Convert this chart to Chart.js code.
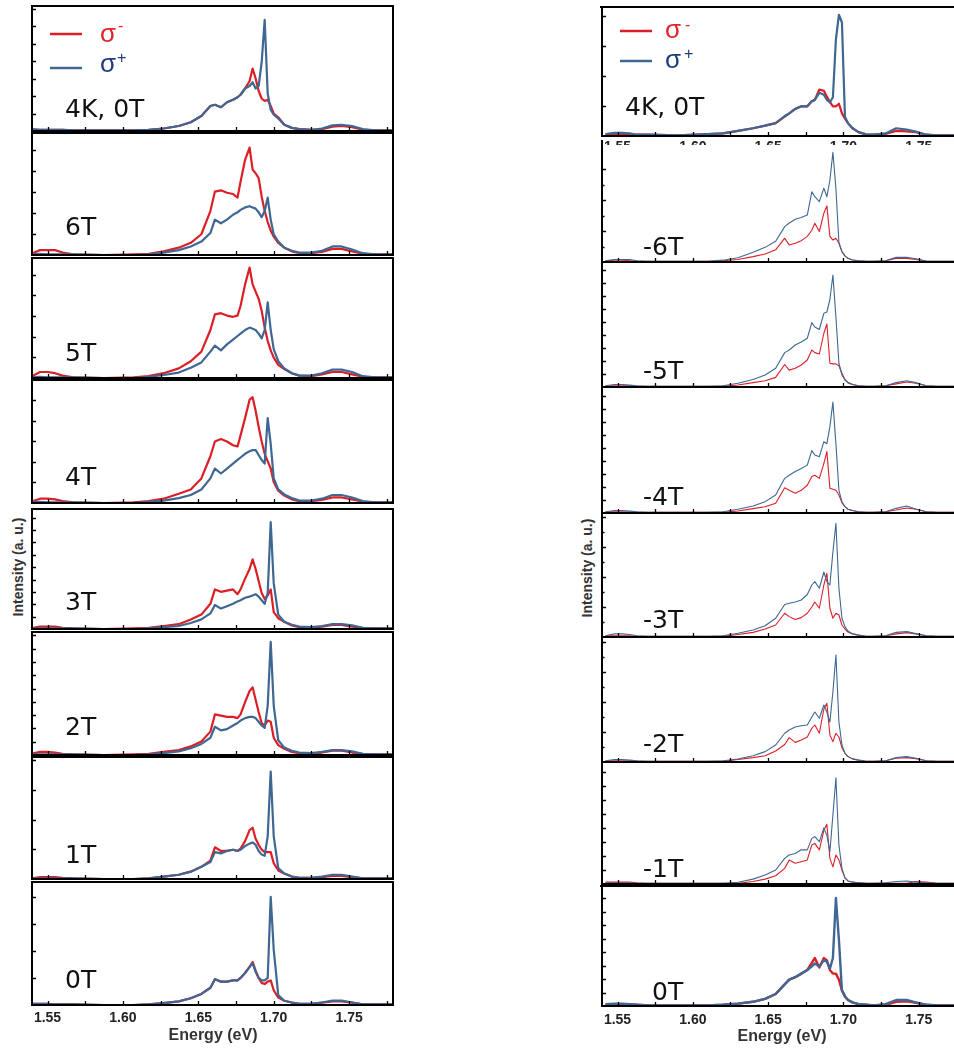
<!DOCTYPE html>
<html>
<head>
<meta charset="utf-8">
<title>Polarised PL spectra vs field</title>
<script src="https://cdn.jsdelivr.net/npm/chart.js@4.4.1/dist/chart.umd.min.js"></script>
<style>
  html, body { margin: 0; padding: 0; background: #fff; }
  body { position: relative; width: 954px; height: 1055px; overflow: hidden; }
  canvas { position: absolute; }
  .ytitle {
    position: absolute;
    font: bold 14px "Liberation Sans", Arial, sans-serif;
    color: #333;
    white-space: nowrap;
    transform: translate(-50%, -50%) rotate(-90deg);
  }
</style>
</head>
<body>
<div class="ytitle" style="left:18px; top:567px">Intensity (a. u.)</div>
<div class="ytitle" style="left:587px; top:568px">Intensity (a. u.)</div>

<script>
// Energy grid (eV) for each column
const energyLeft = [1.539, 1.545, 1.550, 1.555, 1.560, 1.567, 1.587, 1.607, 1.617, 1.627, 1.637, 1.645, 1.652, 1.658,
  1.661, 1.665, 1.669, 1.673, 1.676, 1.678, 1.681, 1.684, 1.686, 1.688, 1.690, 1.692, 1.694, 1.696, 1.698, 1.700,
  1.703, 1.707, 1.712, 1.717, 1.725, 1.732, 1.739, 1.745, 1.752, 1.759, 1.767, 1.779];
const energyRight = [1.542, 1.548, 1.553, 1.558, 1.563, 1.570, 1.590, 1.610, 1.620, 1.630, 1.640, 1.648, 1.655, 1.661,
  1.664, 1.668, 1.672, 1.676, 1.679, 1.681, 1.684, 1.687, 1.689, 1.691, 1.693, 1.695, 1.697, 1.699, 1.701, 1.703,
  1.706, 1.710, 1.715, 1.720, 1.728, 1.735, 1.742, 1.748, 1.755, 1.762, 1.770, 1.778];

const tickValues = [1.55, 1.60, 1.65, 1.70, 1.75];
const tickLabels = ["1.55", "1.60", "1.65", "1.70", "1.75"];
const tickMarks = [1.55, 1.575, 1.6, 1.625, 1.65, 1.675, 1.7, 1.725, 1.75, 1.775];

// Intensities, in % of each panel height. red = sigma-, blue = sigma+
// left column, positive field
const redL4K  = [1, 1, 1, 1, 1, 0.5, 0.5, 0.5, 1, 2, 4, 7, 12, 20, 21, 19, 23, 25, 27, 29, 34, 40, 50, 42, 32, 26, 24, 25, 20, 14, 11, 5, 2.5, 1.5, 1, 1.5, 3.5, 4, 3, 1, 0.5, 0.5];
const blueL4K = [1.5, 1, 1, 1, 1, 0.5, 0.5, 0.5, 1, 2, 4, 7, 12, 20, 21, 19, 23, 25, 27, 29, 34, 36, 39, 34, 36, 55, 89, 30, 17, 13, 10, 5, 2.5, 1.5, 1, 2, 4.5, 5, 4, 1.5, 0.5, 0.5];
const redL6T  = [1, 4, 4, 4, 2, 0.5, 0, 0.5, 1, 3, 6, 10, 17, 36, 52, 53, 51, 50, 47, 60, 78, 88, 70, 67, 63, 48, 36, 27, 20, 15, 10, 6, 3, 1.5, 1.5, 2.5, 5, 5, 3, 1, 0.5, 0.5];
const blueL6T = [0.5, 1, 0.5, 0.5, 0.5, 0.5, 0, 0, 0.5, 2, 4, 7, 11, 18, 29, 26, 29, 33, 35, 37, 39, 40, 39, 38, 35, 31, 36, 47, 29, 17, 11, 6, 3.5, 2, 2, 3.5, 7, 7, 4.5, 1.5, 0.5, 0.5];
const redL5T  = [1, 5, 5, 4, 2, 0.5, 0, 0.5, 1.5, 4, 8, 14, 22, 40, 53, 54, 52, 51, 52, 60, 78, 92, 78, 72, 66, 56, 42, 31, 23, 17, 11, 7.5, 4, 2, 1.5, 3, 5, 5, 3, 1, 0.5, 0.5];
const blueL5T = [0.5, 1, 0.5, 0.5, 0.5, 0.5, 0, 0, 1, 2.5, 4.5, 8.5, 13, 22, 27, 23, 28, 32, 35, 37, 40, 42, 41, 40, 37, 33, 40, 63, 40, 24, 14, 8, 4, 2, 2, 4, 7, 7, 5, 1.5, 0.5, 0.5];
const redL4T  = [1, 3.5, 3.5, 3, 1.5, 0.5, 0, 0.5, 1.5, 3.5, 7.5, 11, 20, 38, 50, 52, 50, 47, 46, 55, 69, 84, 86, 75, 62, 50, 40, 34, 28, 17, 10, 6, 3, 1.5, 1.5, 2.5, 4.5, 4.5, 3, 1, 0.5, 0.5];
const blueL4T = [0.5, 1, 0.5, 0.5, 0.5, 0.5, 0, 0, 1, 2, 4, 6.5, 11, 20, 28, 24, 28, 32, 35, 37, 40, 42, 43, 43, 39, 35, 32, 69, 48, 20, 11, 7, 4, 2, 2, 3.5, 6.5, 6.5, 4.5, 1.5, 0.5, 0.5];
const redL3T  = [0.5, 2, 2, 2, 1, 0.5, 0, 0.5, 1, 2.5, 4, 8, 12, 21, 33, 31, 32, 33, 29, 33, 42, 50, 58, 50, 40, 30, 25, 28, 33, 14, 9, 6, 3, 1.5, 1, 2, 3.5, 3.5, 2, 1, 0.5, 0.5];
const blueL3T = [0.5, 0.5, 0.5, 0.5, 0.5, 0.5, 0, 0, 0.5, 1.5, 2.5, 5, 8, 13, 20, 17, 19, 21, 23, 24, 26, 27, 28, 29, 27, 24, 21, 30, 89, 38, 12, 6, 3.5, 2, 1.5, 2.5, 4, 4, 3, 1, 0.5, 0.5];
const redL2T  = [1, 2.5, 2.5, 2, 1, 0.5, 0, 0.5, 1, 2.5, 4, 7, 11, 19, 33, 32, 31, 31, 30, 33, 43, 52, 55, 45, 35, 26, 24, 28, 27, 14, 8, 5, 2.5, 1.5, 1, 2, 3.5, 3.5, 2, 1, 0.5, 0.5];
const blueL2T = [0.5, 0.5, 0.5, 0.5, 0.5, 0.5, 0, 0, 0.5, 1.5, 3, 5.5, 9, 14, 23, 20, 21, 24, 26, 28, 30, 31, 31, 30, 27, 24, 22, 40, 92, 40, 12, 6, 3.5, 2, 1.5, 2.5, 4, 4, 3, 1, 0.5, 0.5];
const redL1T  = [0.5, 1.5, 1.5, 1.5, 1, 0.5, 0, 0, 0.5, 2, 3.5, 6, 10, 15, 26, 23, 23, 24, 23, 25, 31, 40, 42, 33, 28, 24, 22, 22, 22, 13, 7, 4.5, 2, 1, 1, 1.5, 2.5, 2.5, 1.5, 0.5, 0.5, 0.5];
const blueL1T = [0.5, 0.5, 0.5, 0.5, 0.5, 0.5, 0, 0, 0.5, 2, 3.5, 6, 10, 14, 22, 21, 23, 24, 23, 24, 27, 29, 30, 28, 23, 20, 19, 35, 88, 35, 9, 4.5, 2, 1, 1, 2, 3.5, 3.5, 2, 0.5, 0.5, 0.5];
const redL0T  = [1, 1, 1, 0.5, 0.5, 0.5, 0, 0, 0.5, 1.5, 3, 5.5, 9, 14, 21, 19, 19, 20, 20, 22, 26, 31, 35, 28, 22, 18, 17, 19, 20, 12, 6, 3.5, 2, 1, 1, 2, 3, 3, 2, 0.5, 0.5, 0.5];
const blueL0T = [1, 1, 1, 0.5, 0.5, 0.5, 0, 0, 0.5, 1.5, 3, 5.5, 9, 14, 21, 19, 19, 20, 20, 22, 26, 31, 34, 27, 22, 20, 20, 22, 88, 45, 8, 3.5, 2, 1, 1, 2, 3.5, 3.5, 2, 0.5, 0.5, 0.5];

// right column, negative field
const redR4K   = [1, 1.5, 1.5, 1, 1, 1, 0.5, 1.5, 2, 4, 6, 8, 10, 15, 17.5, 21, 23, 23, 27, 28, 36, 35, 30.5, 26.5, 23, 23, 25, 17.5, 13.5, 10, 6, 3, 1.3, 1, 1.5, 4, 3.6, 3, 1, 0.5, 0.5, 0.5];
const blueR4K  = [1.5, 2.5, 2.5, 2, 1, 1, 0.5, 1.5, 2, 4, 6, 8, 10, 15.5, 17.5, 21, 23, 23, 27, 28, 33.5, 32, 28, 26, 30, 75, 94, 88, 15, 10, 6, 3, 1.3, 1, 2, 6, 5, 3.4, 1, 0.5, 0.5, 0.5];
const redRm6T  = [1, 1.5, 1.5, 1, 0.5, 0.5, 0.5, 0.5, 1, 2, 4.4, 6.6, 10, 19.5, 14, 15.3, 17.5, 21, 26, 31.7, 25, 40, 46, 21, 18, 19.5, 15.3, 8.5, 5, 3, 1.6, 1, 0.5, 0.5, 1, 3, 3, 2, 0.8, 0.5, 0.5, 0.5];
const blueRm6T = [1, 2, 2, 2, 1, 0.5, 0.5, 0.5, 1.5, 3.5, 8, 12, 17, 29, 32, 35, 36.5, 38.5, 57.5, 53.5, 49.5, 60.5, 53.5, 67, 90, 60, 16, 8.5, 5, 3, 1.6, 1, 0.5, 0.5, 1, 3.8, 3.8, 2.7, 0.8, 0.5, 0.5, 0.5];
const redRm5T  = [1, 1, 1, 1, 0.5, 0.5, 0.5, 0.5, 0.5, 1.6, 3.5, 5, 7.7, 18, 13.5, 15, 17.6, 21.6, 29.6, 27.5, 26.4, 43, 50.4, 19, 18.5, 18.5, 17, 11, 6, 3.5, 2, 1, 0.5, 0.5, 1, 2.5, 4, 3, 1, 0.5, 0.5, 0.5];
const blueRm5T = [1, 2, 2, 1.5, 1, 0.5, 0.5, 0.5, 1, 3, 6, 9.6, 15, 27.5, 29.6, 33.6, 36, 39, 51.5, 48, 46, 59, 60, 70, 89.6, 56, 19, 9.6, 5.6, 3.5, 2, 1, 0.5, 0.5, 1, 3.5, 5, 3.5, 1, 0.5, 0.5, 0.5];
const redRm4T  = [1, 1, 1, 0.8, 0.5, 0.5, 0.5, 0.5, 0.5, 1.6, 3.5, 5, 7.7, 20, 18, 15.6, 18, 22, 29, 30, 27.5, 39.4, 48.7, 19.6, 18.8, 18, 14.3, 8.2, 5, 3, 2, 1, 0.5, 0.5, 1, 2.4, 4, 3, 1, 0.5, 0.5, 0.5];
const blueRm4T = [1, 2, 2, 1.5, 1, 0.5, 0.5, 0.5, 1, 3, 5.5, 9, 14.3, 27.5, 30, 33, 35.4, 38, 49.5, 46, 44.7, 56.6, 55, 68.5, 88, 55, 18, 9, 5, 3, 2, 1, 0.5, 0.5, 1, 3.7, 5.5, 3.2, 1, 0.5, 0.5, 0.5];
const redRm3T  = [1, 1, 1, 1, 0.5, 0.5, 0.5, 0.5, 0.5, 2, 3.7, 6.4, 9.6, 19, 16.3, 14, 15.5, 19, 24, 28, 23, 41.6, 51, 23, 15, 19, 17.6, 9.6, 6.4, 4, 2.5, 1.5, 0.5, 0.5, 1, 2.5, 3.5, 2.5, 1, 0.5, 0.5, 0.5];
const blueRm3T = [1, 2.5, 2.5, 2, 1, 0.5, 0.5, 0.5, 1, 3, 5.6, 9, 15, 26, 27, 28, 29.6, 34, 41.6, 44.3, 39, 52, 44.3, 41.6, 68, 91, 39, 15, 8.3, 4.8, 2.5, 1.5, 0.5, 0.5, 1, 3.7, 4.3, 2.7, 1, 0.5, 0.5, 0.5];
const redRm2T  = [1, 1, 1, 1, 0.5, 0.5, 0.5, 0.5, 0.5, 2, 3.5, 5, 8.8, 14, 19.5, 15.7, 17.6, 20, 27, 29.6, 23, 42.4, 47, 21.6, 16.3, 23, 20, 11.5, 7, 4.3, 2.5, 1.5, 0.5, 0.5, 1, 3, 3.5, 2.7, 1, 0.5, 0.5, 0.5];
const blueRm2T = [1, 2, 2, 1.5, 1, 0.5, 0.5, 0.5, 1, 2.4, 5, 8.3, 13.6, 23, 25.6, 28, 29, 29.6, 36, 40, 35, 45.6, 40, 32, 56, 85.6, 32, 13.6, 7, 4.3, 2.5, 1.5, 0.5, 0.5, 1, 3.5, 4.3, 3, 1, 0.5, 0.5, 0.5];
const redRm1T  = [1.5, 1.5, 1.5, 1.5, 1, 0.5, 0.5, 0.5, 0.5, 0.5, 2, 4, 6.8, 12.8, 19.7, 17, 18.3, 19.7, 32, 33.3, 28, 44, 49, 21, 14, 23.8, 19.7, 11.5, 5, 2.5, 1.5, 1, 0.5, 0.5, 0.5, 0.5, 0.5, 2, 1.5, 0.5, 0.5, 0.5];
const blueRm1T = [1, 1, 1, 1, 0.5, 0.5, 0.5, 0.5, 0.5, 1.4, 4, 7.4, 11.5, 21, 23.8, 25, 28, 28, 37.4, 38.8, 34.7, 46, 40, 26.5, 56.6, 87, 32, 12.8, 5, 2.5, 1.5, 1, 0.5, 0.5, 1, 2, 2.5, 1.5, 1, 0.5, 0.5, 0.5];
const redR0T   = [1, 1.5, 1.5, 1, 1, 0.5, 0.5, 0.5, 1, 2, 3.5, 6, 10, 18, 22, 24, 27, 30, 36, 40, 32, 40, 38, 30, 27, 27, 22, 13, 8, 5, 3, 1.5, 1, 0.5, 1, 3.5, 4, 2.7, 1, 0.5, 0.5, 0.5];
const blueR0T  = [1.5, 2, 2, 1.5, 1, 0.5, 0.5, 0.5, 1, 2, 3.5, 6, 10, 18, 22, 24, 27, 30, 33, 35.5, 33, 38, 37, 31, 40, 90, 55, 13, 8, 5, 3, 1.5, 1, 0.5, 1.5, 5, 5, 3, 1, 0.5, 0.5, 0.5];

const RED = "#dc1f27";
const BLUE = "#3e6793";

// column geometry (plot area in page pixels)
const cols = {
  L: { left: 32, right: 393, xmin: 1.5397, xmax: 1.7791, energy: energyLeft, box: true, titleX: 213, labelDy: 13,
       legend: { x1: 50, x2: 82, yRed: 34, yBlue: 68, tx: 100, baseRed: 42, baseBlue: 72, supX: 117, supMinus: 31, supPlus: 63 } },
  R: { left: 602, right: 954, xmin: 1.5397, xmax: 1.7734, energy: energyRight, box: false, titleX: 782, labelDy: 14,
       legend: { x1: 620, x2: 652, yRed: 31, yBlue: 61, tx: 665, baseRed: 38, baseBlue: 68, supX: 684, supMinus: 30, supPlus: 59 } },
};

const panels = [
  { col: "L", top: 6,   bottom: 131,  label: "4K, 0T", lx: 65, ly: 117, red: redL4K, blue: blueL4K, yStep: 14, legend: true, lw: 2.2 },
  { col: "L", top: 133, bottom: 255,  label: "6T", lx: 65, ly: 235, red: redL6T, blue: blueL6T, yStep: 17.2, lw: 2.2 },
  { col: "L", top: 258, bottom: 378,  label: "5T", lx: 65, ly: 361, red: redL5T, blue: blueL5T, yStep: 17.2, lw: 2.2 },
  { col: "L", top: 380, bottom: 503,  label: "4T", lx: 65, ly: 485, red: redL4T, blue: blueL4T, yStep: 16.7, lw: 2.2 },
  { col: "L", top: 509, bottom: 629,  label: "3T", lx: 65, ly: 610, red: redL3T, blue: blueL3T, yStep: 10.3, lw: 2.2 },
  { col: "L", top: 632, bottom: 755,  label: "2T", lx: 65, ly: 735, red: redL2T, blue: blueL2T, yStep: 10.8, lw: 2.2 },
  { col: "L", top: 757, bottom: 879,  label: "1T", lx: 65, ly: 863, red: redL1T, blue: blueL1T, yStep: 24.3, lw: 2.2 },
  { col: "L", top: 882, bottom: 1005, label: "0T", lx: 65, ly: 988, red: redL0T, blue: blueL0T, yStep: 22, lw: 2.2, axisLabels: true },

  { col: "R", top: 7,   bottom: 136,  label: "4K, 0T", lx: 625, ly: 115, red: redR4K, blue: blueR4K, yStep: 23.3, legend: true, topLine: true, cutLabels: true, lw: 2.2 },
  { col: "R", top: 140, bottom: 262,  label: "-6T", lx: 643, ly: 255, red: redRm6T, blue: blueRm6T, yStep: 25.4, minor: true, lw: 1.1 },
  { col: "R", top: 262, bottom: 387,  label: "-5T", lx: 643, ly: 379, red: redRm5T, blue: blueRm5T, yStep: 10.4, lw: 1.1 },
  { col: "R", top: 387, bottom: 513,  label: "-4T", lx: 643, ly: 505, red: redRm4T, blue: blueRm4T, yStep: 10.3, lw: 1.1 },
  { col: "R", top: 512, bottom: 637,  label: "-3T", lx: 643, ly: 628, red: redRm3T, blue: blueRm3T, yStep: 24, minor: true, lw: 1.1 },
  { col: "R", top: 637, bottom: 762,  label: "-2T", lx: 643, ly: 752, red: redRm2T, blue: blueRm2T, yStep: 24, minor: true, lw: 1.1 },
  { col: "R", top: 762, bottom: 884,  label: "-1T", lx: 643, ly: 877, red: redRm1T, blue: blueRm1T, yStep: 11.5, lw: 1.1 },
  { col: "R", top: 886, bottom: 1006, label: "0T", lx: 652, ly: 1000, red: redR0T, blue: blueR0T, yStep: 11.2, topLine: true, axisLabels: true, lw: 2.4 },
];

// axes, ticks, panel labels and legend drawn on top of the curves
function makeFrame(p, c, ox, oy) {
  return {
    id: "frame",
    afterDatasetsDraw(chart) {
      const { ctx, chartArea: a } = chart;
      const x = chart.scales.x, y = chart.scales.y;
      ctx.save();
      ctx.strokeStyle = "#000";

      // inward ticks
      ctx.lineWidth = 1.3;
      ctx.beginPath();
      tickMarks.forEach((v) => {
        const px = Math.round(x.getPixelForValue(v)) + 0.5;
        ctx.moveTo(px, a.bottom);
        ctx.lineTo(px, a.bottom - 4);
      });
      for (let v = p.yStep; v < 99; v += p.yStep) {
        const py = Math.round(y.getPixelForValue(v)) + 0.5;
        ctx.moveTo(a.left, py);
        ctx.lineTo(a.left + 4, py);
        if (p.minor) {
          const pm = Math.round(y.getPixelForValue(v - p.yStep / 2)) + 0.5;
          ctx.moveTo(a.left, pm);
          ctx.lineTo(a.left + 2.5, pm);
        }
      }
      ctx.stroke();

      // frame
      ctx.lineWidth = 2;
      if (c.box) {
        ctx.strokeRect(a.left, a.top, a.right - a.left, a.bottom - a.top);
      } else {
        ctx.beginPath();
        ctx.moveTo(a.left, a.top);
        ctx.lineTo(a.left, a.bottom);
        ctx.lineTo(a.right, a.bottom);
        if (p.topLine) {
          ctx.moveTo(a.left - 2, a.top);
          ctx.lineTo(a.right, a.top);
        }
        ctx.stroke();
      }

      // panel label
      ctx.fillStyle = "#111";
      ctx.font = '25px "DejaVu Sans", sans-serif';
      ctx.textAlign = "left";
      ctx.textBaseline = "alphabetic";
      ctx.fillText(p.label, p.lx - ox, p.ly - oy);

      // legend
      if (p.legend) {
        const g = c.legend;
        ctx.lineWidth = 2.5;
        ctx.strokeStyle = RED;
        ctx.beginPath(); ctx.moveTo(g.x1 - ox, g.yRed - oy); ctx.lineTo(g.x2 - ox, g.yRed - oy); ctx.stroke();
        ctx.strokeStyle = BLUE;
        ctx.beginPath(); ctx.moveTo(g.x1 - ox, g.yBlue - oy); ctx.lineTo(g.x2 - ox, g.yBlue - oy); ctx.stroke();
        ctx.font = '26px "Liberation Sans", Arial, sans-serif';
        ctx.fillStyle = "#e3232b";
        ctx.fillText("σ", g.tx - ox, g.baseRed - oy);
        ctx.fillStyle = "#1f3d7a";
        ctx.fillText("σ", g.tx - ox, g.baseBlue - oy);
        ctx.font = '16px "Liberation Sans", Arial, sans-serif';
        ctx.fillStyle = "#e3232b";
        ctx.fillText("-", g.supX + 1 - ox, g.supMinus - oy);
        ctx.fillStyle = "#1f3d7a";
        ctx.fillText("+", g.supX - ox, g.supPlus - oy);
      }

      // energy tick labels
      if (p.axisLabels || p.cutLabels) {
        ctx.fillStyle = "#222";
        ctx.font = 'bold 14px "Liberation Sans", Arial, sans-serif';
        ctx.textAlign = "center";
        ctx.textBaseline = p.cutLabels ? "top" : "middle";
        const ty = p.cutLabels ? a.bottom + 4 : a.bottom + c.labelDy;
        tickValues.forEach((v, i) => ctx.fillText(tickLabels[i], x.getPixelForValue(v), ty));
        if (p.axisLabels) {
          ctx.fillStyle = "#333";
          ctx.font = 'bold 16px "Liberation Sans", Arial, sans-serif';
          ctx.fillText("Energy (eV)", c.titleX - ox, a.bottom + 31);
        }
      }
      ctx.restore();
    },
  };
}

panels.forEach((p) => {
  const c = cols[p.col];
  const pad = { left: 4, right: 4, top: 4, bottom: p.axisLabels ? 48 : p.cutLabels ? 9 : 4 };
  const w = c.right - c.left + pad.left + pad.right;
  const h = p.bottom - p.top + pad.top + pad.bottom;
  const ox = c.left - pad.left;
  const oy = p.top - pad.top;

  const cv = document.createElement("canvas");
  cv.width = w;
  cv.height = h;
  cv.style.left = ox + "px";
  cv.style.top = oy + "px";
  cv.style.width = w + "px";
  cv.style.height = h + "px";
  document.body.appendChild(cv);

  const pts = (vals) => c.energy.map((e, i) => ({ x: e, y: vals[i] }));

  new Chart(cv, {
    type: "line",
    data: {
      datasets: [
        { label: "σ+", data: pts(p.blue), borderColor: BLUE, borderWidth: p.lw, pointRadius: 0, tension: 0, borderJoinStyle: "round" },
        { label: "σ-", data: pts(p.red), borderColor: RED, borderWidth: p.lw, pointRadius: 0, tension: 0, borderJoinStyle: "round" },
      ],
    },
    options: {
      responsive: false,
      animation: false,
      devicePixelRatio: 1,
      events: [],
      layout: { padding: pad },
      plugins: { legend: { display: false }, tooltip: { enabled: false } },
      scales: {
        x: { type: "linear", min: c.xmin, max: c.xmax, display: false },
        y: { min: 0, max: 100, display: false },
      },
    },
    plugins: [makeFrame(p, c, ox, oy)],
  });
});
</script>
</body>
</html>
